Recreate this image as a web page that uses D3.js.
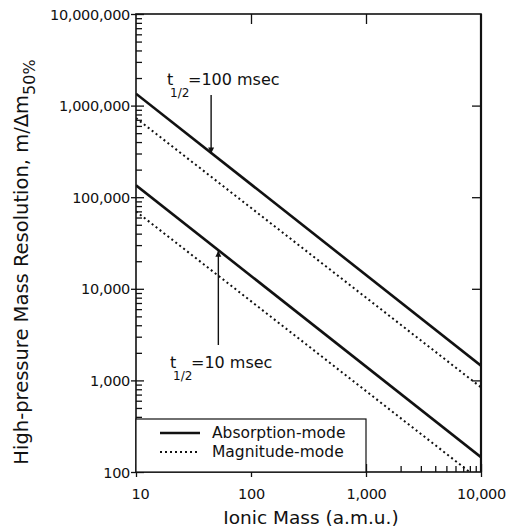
<!DOCTYPE html>
<html>
<head>
<meta charset="utf-8">
<script src="https://cdn.jsdelivr.net/npm/d3@7"></script>
<style>
  body { margin: 0; background: #fff; }
  svg text { font-family: "DejaVu Sans", sans-serif; fill: #111; }
</style>
</head>
<body>
<svg id="chart" width="514" height="529"></svg>
<script>
// chart values
var mass = [10, 10000];
var absorption100 = [1350000, 1450];
var magnitude100 = [730000, 840];
var absorption10 = [135000, 145];
var magnitude10 = [70000, 80];
var xTicks = [10, 100, 1000, 10000];
var yTicks = [100, 1000, 10000, 100000, 1000000, 10000000];
var modes = ["Absorption-mode", "Magnitude-mode"];

var box = { left: 136, right: 481, top: 14, bottom: 472 };
var svg = d3.select('#chart');

var x = d3.scaleLog().domain([10, 10000]).range([box.left, box.right]);
var y = d3.scaleLog().domain([100, 10000000]).range([box.bottom, box.top]);

// minor ticks 2..9 in each decade
function minors(lo, hi) {
  var out = [];
  for (var d = lo; d < hi; d *= 10) {
    for (var k = 2; k < 10; k++) out.push(d * k);
  }
  return out;
}

var fmt = d3.format(',');

// clip for the lines
svg.append('clipPath').attr('id', 'plot')
  .append('rect')
  .attr('x', box.left).attr('y', box.top)
  .attr('width', box.right - box.left).attr('height', box.bottom - box.top);

// frame
svg.append('rect')
  .attr('x', box.left).attr('y', box.top)
  .attr('width', box.right - box.left).attr('height', box.bottom - box.top)
  .attr('fill', 'none').attr('stroke', '#111').attr('stroke-width', 1.6);
svg.append('line').attr('x1', box.right).attr('x2', box.right)
  .attr('y1', box.top).attr('y2', box.bottom)
  .attr('stroke', '#111').attr('stroke-width', 2.2);

// left axis, majors
var left = svg.append('g').attr('transform', 'translate(' + box.left + ',0)')
  .call(d3.axisLeft(y).tickValues(yTicks).tickFormat(fmt).tickSizeInner(5).tickSizeOuter(0).tickPadding(1));
left.selectAll('text').style('font-size', '14.5px').attr('dy', '0.35em').style('letter-spacing', '-0.3px');
// left minors (inward)
svg.append('g').attr('transform', 'translate(' + box.left + ',0)')
  .call(d3.axisLeft(y).tickValues(minors(100, 10000000)).tickFormat('').tickSizeInner(-6).tickSizeOuter(0));
svg.append('g').attr('transform', 'translate(' + box.left + ',0)')
  .call(d3.axisLeft(y).tickValues(yTicks).tickFormat('').tickSizeInner(-8).tickSizeOuter(0));

// bottom axis
var bottom = svg.append('g').attr('transform', 'translate(0,' + box.bottom + ')')
  .call(d3.axisBottom(x).tickValues(xTicks).tickFormat(fmt).tickSizeInner(5).tickSizeOuter(0).tickPadding(12));
bottom.selectAll('text').style('font-size', '14.5px').style('letter-spacing', '-0.3px');
bottom.select('.tick text').attr('dx', 4);
svg.append('g').attr('transform', 'translate(0,' + box.bottom + ')')
  .call(d3.axisBottom(x).tickValues(minors(10, 10000)).tickFormat('').tickSizeInner(-6).tickSizeOuter(0));
svg.append('g').attr('transform', 'translate(0,' + box.bottom + ')')
  .call(d3.axisBottom(x).tickValues(xTicks).tickFormat('').tickSizeInner(-8).tickSizeOuter(0));

// top and right axes, majors only
svg.append('g').attr('transform', 'translate(0,' + box.top + ')')
  .call(d3.axisTop(x).tickValues([100, 1000]).tickFormat('').tickSizeInner(-10).tickSizeOuter(0));
svg.append('g').attr('transform', 'translate(' + box.right + ',0)')
  .call(d3.axisRight(y).tickValues(yTicks.slice(1, -1)).tickFormat('').tickSizeInner(-9).tickSizeOuter(0));

svg.selectAll('.domain').remove();
svg.selectAll('.tick line').attr('stroke', '#111').attr('stroke-width', 1.3);

// legend box
var lg = svg.append('g');
lg.append('rect')
  .attr('x', box.left).attr('y', 419)
  .attr('width', x(1000) - box.left).attr('height', box.bottom - 419)
  .attr('fill', '#fff').attr('stroke', '#111').attr('stroke-width', 1.2);

// lines
var line = d3.line().x(function (d) { return x(d[0]); }).y(function (d) { return y(d[1]); });
var series = [
  { v: absorption100, dash: null },
  { v: magnitude100, dash: '2,3' },
  { v: absorption10, dash: null },
  { v: magnitude10, dash: '2,3' }
];
svg.append('g').attr('clip-path', 'url(#plot)')
  .selectAll('path').data(series).enter().append('path')
  .attr('d', function (s) { return line(d3.zip(mass, s.v)); })
  .attr('fill', 'none').attr('stroke', '#111')
  .attr('stroke-width', function (s) { return s.dash ? 2 : 2.6; })
  .attr('stroke-dasharray', function (s) { return s.dash; });

// legend entries
lg.selectAll('g.item').data(modes).enter().append('g').attr('class', 'item')
  .each(function (d, i) {
    var g = d3.select(this), yy = 433 + i * 19;
    g.append('line').attr('x1', 160).attr('x2', 200).attr('y1', yy).attr('y2', yy)
      .attr('stroke', '#111').attr('stroke-width', i ? 2 : 2.4)
      .attr('stroke-dasharray', i ? '2,3' : null);
    g.append('text').attr('x', 212).attr('y', yy).attr('dy', '0.35em')
      .style('font-size', '15.5px').text(d);
  });

// annotation arrows
svg.append('defs').append('marker').attr('id', 'head')
  .attr('viewBox', '0 0 10 10').attr('refX', 10).attr('refY', 5)
  .attr('markerWidth', 6).attr('markerHeight', 8).attr('orient', 'auto-start-reverse')
  .attr('markerUnits', 'userSpaceOnUse')
  .append('path').attr('d', 'M0,0 L10,5 L0,10 z').attr('fill', '#111');

function arrow(xm, y0, y1) {
  svg.append('line').attr('x1', xm).attr('x2', xm).attr('y1', y0).attr('y2', y1)
    .attr('stroke', '#111').attr('stroke-width', 1.4).attr('marker-end', 'url(#head)');
}
var x100 = 45, x10 = 52;
arrow(x(x100), 95, y(absorption100[0] * 10 / x100));
arrow(x(x10), 345, y(absorption10[0] * 10 / x10));

function halfLife(tx, ty, rest) {
  var t = svg.append('text').attr('y', ty).style('font-size', '16px');
  t.append('tspan').attr('x', tx).text('t');
  t.append('tspan').attr('x', tx + 3).attr('dy', 12).style('font-size', '12px').text('1/2');
  t.append('tspan').attr('x', tx + 21).attr('dy', -12).text(rest);
}
halfLife(167, 85, '=100 msec');
halfLife(170, 368, '=10 msec');

// axis titles
svg.append('text').attr('x', 311).attr('y', 524).attr('text-anchor', 'middle')
  .style('font-size', '18.5px').text('Ionic Mass (a.m.u.)');

var yt = svg.append('text').attr('transform', 'translate(28,262) rotate(-90)')
  .attr('text-anchor', 'middle').style('font-size', '19.5px');
yt.append('tspan').text('High-pressure Mass Resolution,  m/Δm');
yt.append('tspan').attr('dy', 7).style('font-size', '16px').text('50%');
</script>
</body>
</html>
